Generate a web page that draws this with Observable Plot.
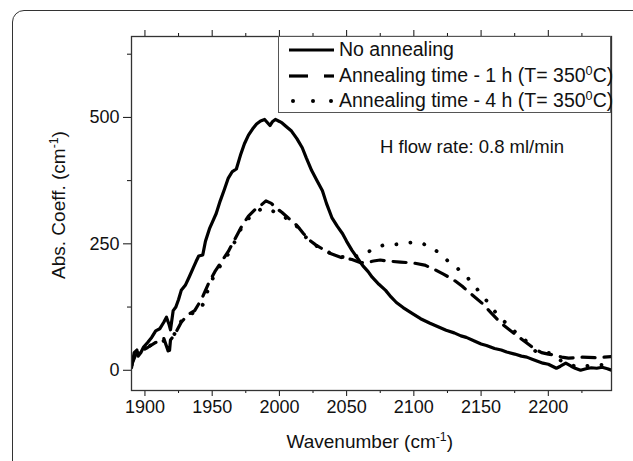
<!DOCTYPE html>
<html><head><meta charset="utf-8">
<script src="https://cdn.jsdelivr.net/npm/d3@7"></script>
<script src="https://cdn.jsdelivr.net/npm/@observablehq/plot@0.6"></script>
<style>
html,body{margin:0;padding:0;background:#fff;overflow:hidden;}
#wrap{position:relative;width:633px;height:461px;font-family:"Liberation Sans",Arial,sans-serif;color:#111;overflow:hidden;}
#border{position:absolute;left:12px;top:10px;width:700px;height:500px;border:1.5px solid #333;border-radius:12px;box-sizing:border-box;}
#chart{position:absolute;left:0;top:0;}
.lab{position:absolute;font-size:19px;white-space:nowrap;}
sup{font-size:0.65em;vertical-align:0.55em;line-height:0;}
#legend{position:absolute;left:278px;top:36px;width:333px;height:77px;border:1px solid #555;background:#fff;box-sizing:border-box;}
.row{position:absolute;left:0;height:26px;width:330px;}
.row svg{position:absolute;left:8px;top:0;}
.row span{position:absolute;left:60px;top:1px;font-size:19.5px;white-space:nowrap;}
</style></head>
<body><div id="wrap"><div id="border"></div><div id="chart"></div></div>
<script>
// Series: no annealing (solid)
const noAnnX = [1890,1891,1892,1894,1895,1897,1899,1902,1905,1908,1911,1914,1916,1918,1919,1921,1923,1925,1927,1930,1933,1936,1938,1940,1943,1945,1948,1950,1953,1956,1959,1962,1965,1968,1971,1974,1977,1980,1983,1986,1989,1991,1993,1995,1997,2000,2002,2005,2009,2013,2017,2020,2024,2028,2032,2035,2039,2043,2047,2050,2054,2058,2062,2066,2069,2074,2079,2083,2087,2092,2099,2105,2112,2118,2124,2130,2135,2139,2145,2150,2154,2160,2165,2169,2175,2180,2184,2188,2192,2196,2200,2203,2206,2209,2213,2217,2220,2224,2228,2232,2236,2240,2244,2247];
const noAnnY = [5,20,35,40,28,35,46,55,65,78,82,95,105,90,80,118,125,140,158,168,185,203,215,226,228,255,280,292,310,335,357,380,393,398,425,448,465,477,487,493,496,490,484,492,496,492,489,482,473,458,440,420,395,375,355,330,302,285,270,255,237,222,207,195,184,170,158,145,134,124,112,102,93,86,79,74,68,65,58,52,49,43,40,36,32,28,26,22,18,14,12,8,4,8,14,8,4,0,3,5,4,6,3,0];
// Series: annealing 1 h (dashed)
const ann1X = [1890,1893,1897,1902,1908,1914,1917,1918,1919,1922,1927,1932,1937,1942,1947,1952,1957,1962,1967,1972,1977,1982,1987,1990,1994,1998,2002,2007,2011,2015,2018,2022,2027,2032,2037,2042,2047,2054,2060,2065,2070,2075,2080,2090,2100,2108,2115,2122,2129,2136,2143,2151,2158,2165,2172,2180,2186,2190,2195,2200,2205,2210,2215,2225,2235,2247];
const ann1Y = [10,30,38,45,55,63,40,30,60,70,95,110,118,140,170,195,215,235,260,285,305,318,328,335,330,320,312,300,292,280,270,258,248,240,232,227,222,219,213,213,216,218,216,214,212,208,200,190,180,166,150,132,112,93,78,62,50,42,35,32,30,26,24,26,25,27];
// Series: annealing 4 h (dotted)
const ann4X = [1890,1893,1897,1902,1908,1914,1920,1927,1932,1937,1942,1947,1952,1957,1962,1967,1972,1977,1982,1986,1989,1993,1997,2002,2007,2011,2016,2020,2025,2030,2036,2041,2047,2052,2058,2064,2070,2077,2083,2090,2096,2101,2107,2114,2120,2125,2131,2136,2141,2145,2150,2154,2159,2164,2169,2174,2179,2183,2187,2191,2196,2201,2206,2211,2217,2224,2230,2236,2242,2247];
const ann4Y = [10,28,38,47,53,58,62,97,108,115,122,160,191,210,230,255,283,300,312,318,320,318,312,305,298,290,276,262,250,242,234,228,224,222,226,231,240,247,248,250,252,253,250,241,230,217,205,193,180,168,150,138,120,105,92,79,68,59,48,36,35,34,25,16,10,6,9,10,11,10];

const xMajor = [1900,1950,2000,2050,2100,2150,2200];
const xMinor = [1925,1975,2025,2075,2125,2175,2225];
const yMajor = [0,250,500];
const yMinor = [125,375,625];

const seriesNames = ["No annealing","Annealing time - 1 h (T= 350°C)","Annealing time - 4 h (T= 350°C)"];
const toRows = (xs, ys) => xs.map((x, i) => ({x, y: ys[i]}));
const s0 = toRows(noAnnX, noAnnY), s1 = toRows(ann1X, ann1Y), s2 = toRows(ann4X, ann4Y);
const fmt = d3.format("d");
const none = () => "";

const chart = Plot.plot({
  width: 633, height: 461,
  marginLeft: 131, marginRight: 22, marginTop: 36, marginBottom: 71,
  x: {domain: [1890, 2247]},
  y: {domain: [-40, 660]},
  style: {fontFamily: "'Liberation Sans', Arial, sans-serif", fontSize: "18px", color: "#111", background: "transparent", overflow: "visible"},
  marks: [
    Plot.axisX({anchor: "top", ticks: xMajor, tickSize: 7, tickFormat: none, label: null}),
    Plot.axisX({anchor: "top", ticks: xMinor, tickSize: 4, tickFormat: none, label: null}),
    Plot.axisX({anchor: "bottom", ticks: xMajor, tickSize: 6, tickPadding: 4, tickFormat: fmt, fontSize: 18, label: null}),
    Plot.axisX({anchor: "bottom", ticks: xMinor, tickSize: 3, tickFormat: none, label: null}),
    Plot.axisY({ticks: yMajor, tickSize: 8, tickPadding: 4, tickFormat: fmt, fontSize: 18, label: null}),
    Plot.axisY({ticks: yMinor, tickSize: 4, tickFormat: none, label: null}),
    Plot.line(s1, {x: "x", y: "y", stroke: "#000", strokeWidth: 3.2, strokeDasharray: "13 9", clip: true}),
    Plot.line(s2, {x: "x", y: "y", stroke: "#000", strokeWidth: 3.8, strokeDasharray: "0.1 14", strokeLinecap: "round", clip: true}),
    Plot.line(s0, {x: "x", y: "y", stroke: "#000", strokeWidth: 3.2, clip: true}),
    Plot.frame({stroke: "#333", strokeWidth: 1.3})
  ]
});
document.getElementById("chart").appendChild(chart);

const wrap = document.getElementById("wrap");
function addLab(html, css) {
  const d = document.createElement("div");
  d.className = "lab"; d.innerHTML = html; Object.assign(d.style, css); wrap.appendChild(d); return d;
}
const xt = addLab("Wavenumber (cm<sup>-1</sup>)", {top: "431px"});
xt.style.left = (370 - xt.offsetWidth / 2) + "px";
const yt = addLab("Abs. Coeff. (cm<sup>-1</sup>)", {});
yt.style.left = (59 - yt.offsetWidth / 2) + "px";
yt.style.top = (205 - yt.offsetHeight / 2) + "px";
yt.style.transform = "rotate(-90deg)";
addLab("H flow rate: 0.8 ml/min", {left: "380px", top: "136px", fontSize: "18.5px"});

const leg = document.createElement("div"); leg.id = "legend"; wrap.appendChild(leg);
const samples = [
  '<line x1="2" x2="47" y1="13" y2="13" stroke="#000" stroke-width="3.2"/>',
  '<line x1="2" x2="21" y1="13" y2="13" stroke="#000" stroke-width="3.2"/><line x1="37" x2="47" y1="13" y2="13" stroke="#000" stroke-width="3.2"/>',
  '<g fill="#000"><circle cx="6" cy="13" r="2"/><circle cx="26" cy="13" r="2"/><circle cx="44" cy="13" r="2"/></g>'
];
const rowTops = [0, 26, 51];
seriesNames.forEach((name, i) => {
  const r = document.createElement("div"); r.className = "row"; r.style.top = rowTops[i] + "px";
  const label = name.replace("350°C", "350<sup>0</sup>C");
  r.innerHTML = `<svg width="50" height="26">${samples[i]}</svg><span>${label}</span>`;
  leg.appendChild(r);
});
</script></body></html>
